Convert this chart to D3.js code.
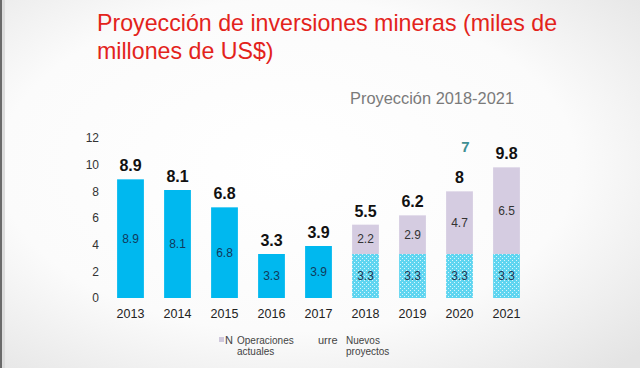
<!DOCTYPE html>
<html><head><meta charset="utf-8">
<script src="https://cdn.jsdelivr.net/npm/d3@7"></script>
<style>html,body{margin:0;padding:0;overflow:hidden;background:#fff}</style>
</head><body>
<svg id="chart" width="640" height="368"></svg>
<script>
const years = ["2013","2014","2015","2016","2017","2018","2019","2020","2021"];
const operaciones = [8.9, 8.1, 6.8, 3.3, 3.9, 3.3, 3.3, 3.3, 3.3];
const nuevos = [0, 0, 0, 0, 0, 2.2, 2.9, 4.7, 6.5];
const totalLabels = ["8.9","8.1","6.8","3.3","3.9","5.5","6.2","8","9.8"];
const projected = [false,false,false,false,false,true,true,true,true];
const yTicks = [0,2,4,6,8,10,12];
const titleLines = ["Proyección de inversiones mineras (miles de","millones de US$)"];
const subtitle = "Proyección 2018-2021";

const svg = d3.select("#chart");
const font = "'Liberation Sans', Arial, sans-serif";
const defs = svg.append("defs");
const rg = defs.append("radialGradient").attr("id","bg").attr("cx","45%").attr("cy","45%").attr("r","75%");
rg.append("stop").attr("offset","0%").attr("stop-color","#ffffff");
rg.append("stop").attr("offset","60%").attr("stop-color","#fbfbfb");
rg.append("stop").attr("offset","100%").attr("stop-color","#e4e4e4");
const pat = defs.append("pattern").attr("id","dots").attr("patternUnits","userSpaceOnUse").attr("width",4).attr("height",4);
pat.append("rect").attr("width",4).attr("height",4).attr("fill","#5fd5f0");
pat.append("rect").attr("x",0).attr("y",0).attr("width",1).attr("height",1).attr("fill","#d8f5fc");
pat.append("rect").attr("x",2).attr("y",2).attr("width",1).attr("height",1).attr("fill","#d8f5fc");

svg.append("rect").attr("width",640).attr("height",368).attr("fill","url(#bg)");
svg.append("rect").attr("x",0).attr("y",0).attr("width",2).attr("height",368).attr("fill","#6a6a6a");
svg.append("rect").attr("x",2).attr("y",0).attr("width",3).attr("height",368).attr("fill","#dcdcdc");

// title
svg.selectAll("text.title").data(titleLines).join("text").attr("class","title")
  .attr("x",97).attr("y",(d,i)=>31+i*28).attr("fill","#e3231b")
  .attr("font-family",font).attr("font-size",23.2).text(d=>d);
svg.append("text").attr("x",350).attr("y",104).attr("fill","#7a7a7a")
  .attr("font-family",font).attr("font-size",16.4).text(subtitle);

const x = d3.scaleBand().domain(years).range([107,530]).paddingInner(0.43).paddingOuter(0.215);
const y = d3.scaleLinear().domain([0,12]).range([298,138]);

// y axis labels
const yAxis = d3.axisLeft(y).tickValues(yTicks).tickSize(0).tickPadding(0);
const ya = svg.append("g").attr("transform","translate(99,0)").call(yAxis);
ya.select(".domain").remove();
ya.selectAll("text").attr("font-family",font).attr("font-size",12).attr("fill","#333");

// x axis labels
const xAxis = d3.axisBottom(x).tickSize(0).tickPadding(0);
const xa = svg.append("g").attr("transform","translate(0,309)").call(xAxis);
xa.select(".domain").remove();
xa.selectAll("text").attr("font-family",font).attr("font-size",12.5).attr("fill","#222");

const data = years.map((yr,i)=>({yr, a:operaciones[i], n:nuevos[i], t:totalLabels[i], p:projected[i]}));

// bottom segments
svg.selectAll("rect.op").data(data).join("rect").attr("class","op")
  .attr("x",d=>x(d.yr)).attr("width",x.bandwidth())
  .attr("y",d=>y(d.a)).attr("height",d=>y(0)-y(d.a))
  .attr("fill",d=>d.p ? "url(#dots)" : "#00b8ef");
// top segments
svg.selectAll("rect.nv").data(data.filter(d=>d.n>0)).join("rect").attr("class","nv")
  .attr("x",d=>x(d.yr)).attr("width",x.bandwidth())
  .attr("y",d=>y(d.a+d.n)).attr("height",d=>y(d.a)-y(d.a+d.n))
  .attr("fill","#d5cce1");

// inner labels
svg.selectAll("text.opl").data(data).join("text").attr("class","opl")
  .attr("x",d=>x(d.yr)+x.bandwidth()/2).attr("y",d=>(y(0)+y(d.a))/2+4)
  .attr("text-anchor","middle").attr("font-family",font).attr("font-size",12)
  .attr("fill",d=>d.p ? "#1d3550" : "#103a5c").text(d=>d3.format(".1f")(d.a));
svg.selectAll("text.nvl").data(data.filter(d=>d.n>0)).join("text").attr("class","nvl")
  .attr("x",d=>x(d.yr)+x.bandwidth()/2).attr("y",d=>(y(d.a)+y(d.a+d.n))/2+4)
  .attr("text-anchor","middle").attr("font-family",font).attr("font-size",12)
  .attr("fill","#333").text(d=>d3.format(".1f")(d.n));
// totals
svg.selectAll("text.tot").data(data).join("text").attr("class","tot")
  .attr("x",d=>x(d.yr)+x.bandwidth()/2).attr("y",d=>y(d.a+d.n)-8)
  .attr("text-anchor","middle").attr("font-family",font).attr("font-size",16)
  .attr("font-weight","bold").attr("fill","#111").text(d=>d.t);

// decorative teal glyph
svg.append("text").attr("x",x("2020")+x.bandwidth()/2+6).attr("y",152)
  .attr("text-anchor","middle").attr("font-family",font).attr("font-size",15)
  .attr("font-weight","bold").attr("fill","#3f8f93").text("7");

// legend
const lg = svg.append("g").attr("font-family",font).attr("font-size",10).attr("fill","#444");
lg.append("rect").attr("x",219).attr("y",337).attr("width",5).attr("height",5).attr("fill","#cfc8dc");
lg.append("text").attr("x",225).attr("y",344).attr("font-size",11).text("N");
lg.append("text").attr("x",237).attr("y",344).text("Operaciones");
lg.append("text").attr("x",237).attr("y",355).text("actuales");
lg.append("text").attr("x",318).attr("y",344).attr("font-size",11).text("urre");
lg.append("text").attr("x",346).attr("y",344).text("Nuevos");
lg.append("text").attr("x",346).attr("y",355).text("proyectos");
</script>
</body></html>
